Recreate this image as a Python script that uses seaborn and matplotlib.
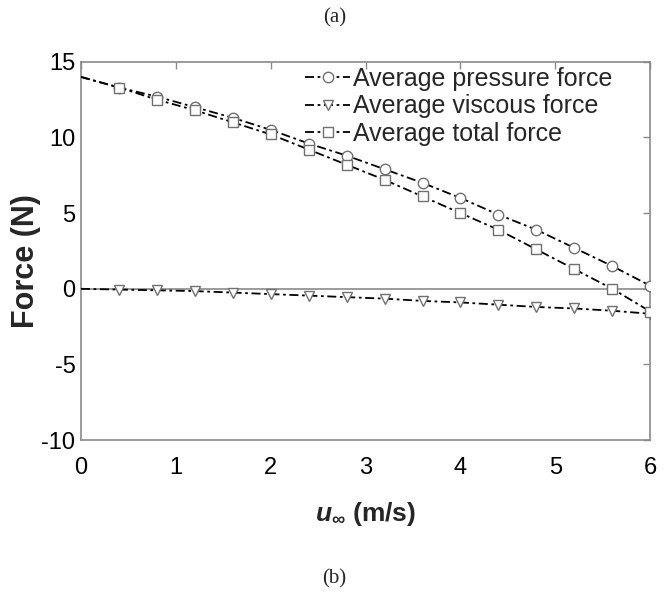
"""force vs free stream velocity, panel (a)"""
import numpy as np
import matplotlib
matplotlib.use("Agg")
import matplotlib.pyplot as plt
import seaborn as sns
import pandas as pd

u_inf = [0.0, 0.4, 0.8, 1.2, 1.6, 2.0, 2.4, 2.8, 3.2, 3.6, 4.0, 4.4, 4.8, 5.2, 5.6, 6.0]
pressure_force = [14.0, 13.3, 12.7, 12.0, 11.3, 10.5, 9.6, 8.8, 7.9, 7.0, 6.0, 4.9, 3.9, 2.7, 1.5, 0.2]
viscous_force = [0.0, -0.05, -0.1, -0.15, -0.25, -0.35, -0.45, -0.55, -0.65, -0.8, -0.9, -1.05, -1.2, -1.3, -1.45, -1.65]
total_force = [14.0, 13.3, 12.5, 11.8, 11.0, 10.2, 9.2, 8.2, 7.2, 6.1, 5.0, 3.9, 2.6, 1.3, 0.0, -1.5]

series = ["Average pressure force", "Average viscous force", "Average total force"]
markers = ["o", "v", "s"]

df = pd.DataFrame({"u": u_inf, series[0]: pressure_force,
                   series[1]: viscous_force, series[2]: total_force})

sns.set_style("white")
plt.rcParams["font.family"] = ["Liberation Sans", "DejaVu Sans"]
plt.rcParams["axes.unicode_minus"] = False
plt.rcParams["mathtext.fontset"] = "custom"
plt.rcParams["mathtext.it"] = "Liberation Sans:italic:bold"
plt.rcParams["mathtext.rm"] = "Liberation Sans:bold"

fig = plt.figure(figsize=(6.69, 5.94), dpi=100)
ax = fig.add_axes([0.121, 0.259, 0.851, 0.637])

grey = "#8a8a8a"
ax.axhline(0, color=grey, lw=1.2, zorder=1)

for name, m in zip(series, markers):
    sns.lineplot(data=df, x="u", y=name, ax=ax, label=name, color="black",
                 linestyle=(0, (5, 2, 1.5, 2)), lw=1.3, marker=m, markersize=7.5,
                 markerfacecolor="white", markeredgecolor="#707070",
                 markeredgewidth=1.0, markevery=list(range(1, len(u_inf))),
                 zorder=3)

ax.set_xlim(0, 6)
ax.set_ylim(-10, 15)
ax.set_xticks(range(0, 7))
ax.set_yticks([-10, -5, 0, 5, 10, 15])
ax.tick_params(direction="in", length=5, width=1, colors=grey,
               labelcolor="black", labelsize=17, top=True, right=True)
ax.tick_params(axis="x", pad=12)
ax.tick_params(axis="y", pad=4)
for s in ax.spines.values():
    s.set_color(grey)
    s.set_linewidth(1.2)

ax.set_xlabel(r"$u_{\infty}$ (m/s)", fontsize=19, fontweight="bold")
ax.xaxis.set_label_coords(0.5, -0.196)
ax.xaxis.label.set_va("center")
ax.set_ylabel("Force (N)", fontsize=22, fontweight="bold")
ax.yaxis.set_label_coords(-0.097, 0.474)
ax.yaxis.label.set_va("center")

ax.legend(loc="upper left", bbox_to_anchor=(0.394, 0.987), frameon=False,
          fontsize=18, handlelength=1.8, handletextpad=0.1,
          labelspacing=0.15, borderpad=0, borderaxespad=0)

fig.text(0.5, 0.97, "(a)", ha="center", va="center",
         family=["Liberation Serif"], fontsize=15)
fig.text(0.5, 0.025, "(b)", ha="center", va="center",
         family=["Liberation Serif"], fontsize=15)

fig.savefig("out.png", dpi=100)
